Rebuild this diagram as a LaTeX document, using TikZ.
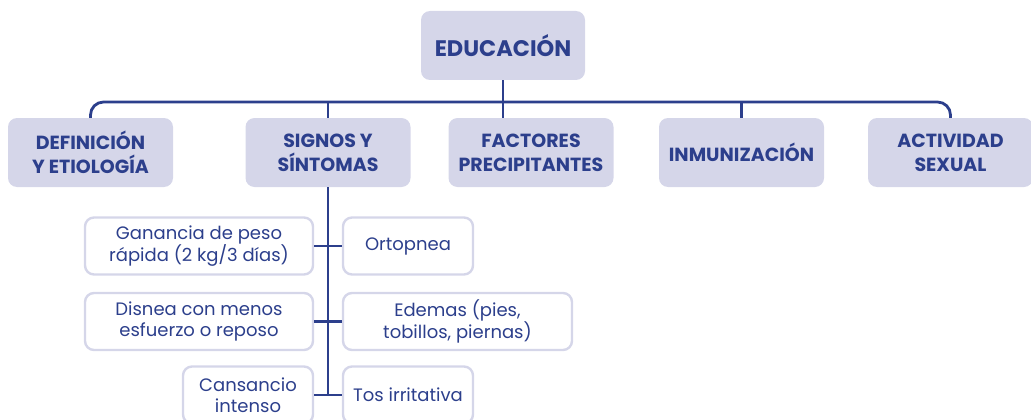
\documentclass[tikz,border=0pt]{standalone}
\usepackage{fontspec}
\setmainfont{Poppins}
\definecolor{lav}{HTML}{D5D6E9}
\definecolor{azul}{HTML}{2C3F8C}
\tikzset{ hd/.style  = { rectangle
                       , fill          = lav
                       , rounded corners = 9pt
                       , text          = azul
                       , font          = \fontsize{22.5}{26}\selectfont\bfseries
                       , minimum width = 164pt
                       , minimum height = 69pt
                       , inner sep     = 0pt
                       , align         = center
                       },
          cat/.style = { hd
                       , minimum width = 165pt
                       , font          = \fontsize{19}{24}\selectfont\bfseries
                       },
          sub/.style = { rectangle
                       , draw          = lav
                       , line width    = 2.4pt
                       , fill          = white
                       , rounded corners = 9pt
                       , text          = azul
                       , font          = \fontsize{18}{20.5}\selectfont
                       , minimum height = 57pt
                       , inner sep     = 0pt
                       , align         = center
                       },
          ln/.style  = { draw = azul
                       , line width = 2.8pt
                       }
        }
\begin{document}
\begin{tikzpicture}[x=1pt, y=-1pt]
    \useasboundingbox (0,0) rectangle (1031,420);
    \clip (0,0) rectangle (1031,420);
    % top
    \node[hd] (edu) at (503,45.5) {EDUCACIÓN};
    % first level
    \node[cat] (def) at (90.5,152.5) {DEFINICIÓN\\Y ETIOLOGÍA};
    \node[cat] (sig) at (328,152.5)  {SIGNOS Y\\SÍNTOMAS};
    \node[cat] (fac) at (531,152.5)  {FACTORES\\PRECIPITANTES};
    \node[cat] (inm) at (741.5,152.5) {INMUNIZACIÓN};
    \node[cat] (act) at (950.5,152.5) {ACTIVIDAD\\SEXUAL};
    % signs
    \node[sub, minimum width=228pt] (gan) at (199,246)   {Ganancia de peso\\rápida (2 kg/3 días)};
    \node[sub, minimum width=130pt] (ort) at (408,246)   {Ortopnea};
    \node[sub, minimum width=228pt] (dis) at (199,321.5) {Disnea con menos\\esfuerzo o reposo};
    \node[sub, minimum width=229pt] (ede) at (457.5,321.5) {Edemas (pies,\\tobillos, piernas)};
    \node[sub, minimum width=130pt] (can) at (248,395)   {Cansancio\\intenso};
    \node[sub, minimum width=130pt] (tos) at (408,395)   {Tos irritativa};
    % connectors
    \coordinate (bus) at (503,102);
    \draw[ln, rounded corners=13pt] (def.north) |- (bus) -| (act.north);
    \draw[ln] (edu.south) -- (edu.south |- fac.north);
    \draw[ln] (sig.north) -- (sig.north |- bus);
    \draw[ln] (inm.north) -- (inm.north |- bus);
    \draw[ln] (sig.south) -- (sig.south |- can.east);
    \draw[ln] (gan.east) -- (ort.west);
    \draw[ln] (dis.east) -- (ede.west);
    \draw[ln] (can.east) -- (tos.west);
\end{tikzpicture}
\end{document}
